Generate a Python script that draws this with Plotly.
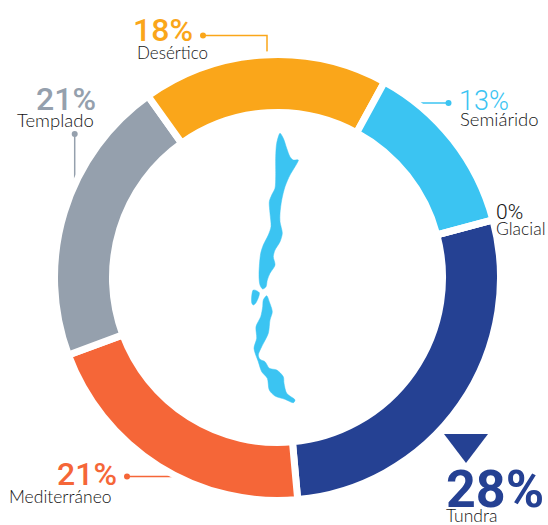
import plotly.graph_objects as go

WIDTH, HEIGHT = 548, 525

# Climate shares, clockwise from the glacial/tundra boundary
climates = ["Tundra", "Mediterráneo", "Templado", "Desértico", "Semiárido", "Glacial"]
shares = [28, 21, 21, 18, 13, 0]
colors = ["#254193", "#F56638", "#95A0AD", "#FAA61A", "#3BC4F2", "#222222"]

# Outline of the country, in page pixels
north_x = [280, 283.3, 286.7, 290, 293.3, 298.3, 295, 290, 285, 281.7, 280, 280, 282.3, 280, 275, 273.3, 275, 270,
           267.3, 266, 262.7, 260, 259, 259.3, 260.7, 263.3, 268.3, 271, 270, 269.3, 271.7, 275, 275.7, 275.7, 276.7, 280]
north_y = [133.3, 138.3, 148.3, 156.7, 160, 160, 166.7, 175, 186.7, 200, 213.3, 221.7, 233.3, 241.7, 250, 256.7, 265, 273.3,
           280, 286.7, 289, 285, 276.7, 266.7, 253.3, 245, 235, 226.7, 213.3, 201.7, 195, 188.3, 176.7, 156.7, 143.3, 133.3]
south_x = [266.7, 269.3, 272.3, 270, 268.3, 261.7, 258.3, 260, 265, 269.3, 276.7, 283.3, 284, 286.7, 295, 293.3, 285, 275,
           269.3, 267.3, 261.7, 258.3, 254, 256.7, 256, 260.7, 262.7, 263.3, 266.7]
south_y = [295.7, 301.7, 311.7, 320, 333.3, 346.7, 355, 359.3, 361.7, 368.3, 370, 376.7, 383.3, 393.3, 400, 402.7, 399.3, 396,
           390, 378.3, 371.7, 361.7, 348.3, 338.3, 326.7, 316.7, 306.7, 300, 295.7]
island_x = [253.3, 259.3, 256, 253.3, 251.7, 253.3]
island_y = [290, 292.7, 302.7, 305, 302.7, 290]

# Leader lines: each list runs from the label dot to the ring
leader_desertico = ([203, 267, 267], [35.5, 35.5, 58])
leader_semiarido = ([448.5, 411], [103, 103])
leader_templado = ([74.7, 74.7], [134, 182])
leader_mediterraneo = ([127, 185], [476.5, 476.5])

# Pointer above the largest share
pointer_x = [444, 488, 466, 444]
pointer_y = [434, 434, 463, 434]

DARK = "#141414"
NUMBER_FONT = "Roboto"
NAME_FONT = "Lato"

fig = go.Figure()

# Map in the hole of the ring
for xs, ys in [(north_x, north_y), (south_x, south_y), (island_x, island_y)]:
    fig.add_trace(go.Scatter(x=xs, y=ys, mode="lines", fill="toself", fillcolor="#3BC4F2",
                             line=dict(color="#3BC4F2", width=0.5, shape="spline", smoothing=0.8),
                             hoverinfo="skip", showlegend=False))

# Leader lines with a dot at the label end
for (xs, ys), color in [(leader_desertico, "#FAA61A"), (leader_semiarido, "#3BC4F2"),
                        (leader_templado, "#95A0AD"), (leader_mediterraneo, "#F56638")]:
    fig.add_trace(go.Scatter(x=xs, y=ys, mode="lines", line=dict(color=color, width=1.5),
                             hoverinfo="skip", showlegend=False))
    fig.add_trace(go.Scatter(x=xs[:1], y=ys[:1], mode="markers", marker=dict(color=color, size=6),
                             hoverinfo="skip", showlegend=False))

fig.add_trace(go.Scatter(x=pointer_x, y=pointer_y, mode="lines", fill="toself", fillcolor="#254193",
                         line=dict(color="#254193", width=0), hoverinfo="skip", showlegend=False))

# The ring; the white outline opens the gaps between sectors
center_x, center_y, radius, stroke = 277.5, 277.5, 223, 7
fig.add_trace(go.Pie(labels=climates, values=shares, sort=False, direction="clockwise", rotation=75,
                     hole=0.74, textinfo="none", showlegend=False, hoverinfo="label+percent",
                     marker=dict(colors=colors, line=dict(color="white", width=stroke)),
                     domain=dict(x=[(center_x - radius) / WIDTH, (center_x + radius) / WIDTH],
                                 y=[1 - (center_y + radius) / HEIGHT, 1 - (center_y - radius) / HEIGHT])))

# (text, left edge, vertical centre, size, colour, weight, font)
labels = [
    ("18%", 132, 30, 32, "#FAA61A", 500, NUMBER_FONT),
    ("Desértico", 136, 52, 17, DARK, 300, NAME_FONT),
    ("21%", 35, 99, 32, "#95A0AD", 500, NUMBER_FONT),
    ("Templado", 16, 120, 18.5, DARK, 300, NAME_FONT),
    ("13%", 458, 101, 27, "#3BC4F2", 300, NUMBER_FONT),
    ("Semiárido", 459, 119, 18.5, DARK, 300, NAME_FONT),
    ("0%", 495, 212, 21, DARK, 300, NUMBER_FONT),
    ("Glacial", 495, 228, 17.5, DARK, 300, NAME_FONT),
    ("21%", 56, 474, 32, "#F56638", 500, NUMBER_FONT),
    ("Mediterráneo", 8, 496, 17.5, DARK, 300, NAME_FONT),
    ("28%", 445, 489, 52, "#254193", 700, NUMBER_FONT),
    ("Tundra", 445, 515, 17.5, DARK, 300, NAME_FONT),
]
for text, x, y, size, color, weight, family in labels:
    fig.add_annotation(x=x, y=y, xref="x", yref="y", text=text, showarrow=False,
                       xanchor="left", yanchor="middle", xshift=-1,
                       font=dict(family=family, size=size, color=color, weight=weight))

fig.update_layout(width=WIDTH, height=HEIGHT, margin=dict(l=0, r=0, t=0, b=0),
                  paper_bgcolor="white", plot_bgcolor="white",
                  xaxis=dict(range=[0, WIDTH], visible=False, fixedrange=True),
                  yaxis=dict(range=[HEIGHT, 0], visible=False, fixedrange=True))

fig.write_html("out.html", config=dict(displayModeBar=False))
